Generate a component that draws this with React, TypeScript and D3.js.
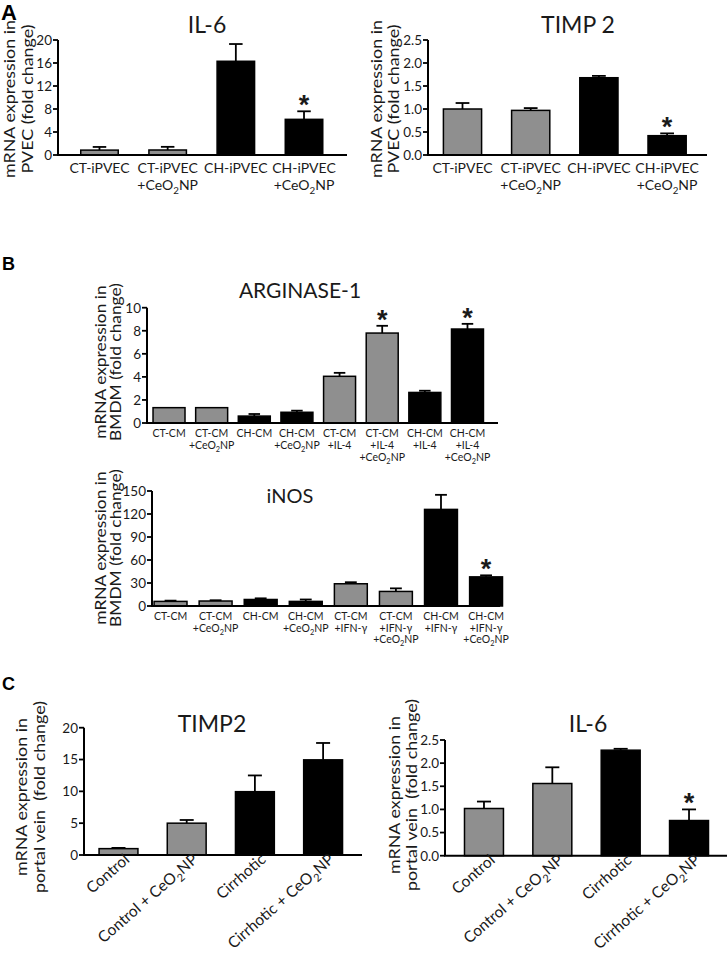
import React from "react";
import * as d3 from "d3";

// ---------- DATA ----------
const pvecCategories = ["CT-iPVEC", "CT-iPVEC\n+CeO2NP", "CH-iPVEC", "CH-iPVEC\n+CeO2NP"];
const pvecGroups = ["CT", "CT", "CH", "CH"];
const il6PvecMean = [0.85, 0.87, 16.3, 6.2];
const il6PvecSem = [0.55, 0.55, 3.0, 1.4];
const il6PvecSig = [false, false, false, true];
const il6PvecTicks = [0, 4, 8, 12, 16, 20];

const timp2PvecMean = [1.0, 0.97, 1.68, 0.42];
const timp2PvecSem = [0.13, 0.05, 0.04, 0.05];
const timp2PvecSig = [false, false, false, true];
const timp2PvecTicks = [0, 0.5, 1.0, 1.5, 2.0, 2.5];

const argCategories = [
  "CT-CM", "CT-CM\n+CeO2NP", "CH-CM", "CH-CM\n+CeO2NP",
  "CT-CM\n+IL-4", "CT-CM\n+IL-4\n+CeO2NP", "CH-CM\n+IL-4", "CH-CM\n+IL-4\n+CeO2NP",
];
const bmdmGroups = ["CT", "CT", "CH", "CH", "CT", "CT", "CH", "CH"];
const argMean = [1.33, 1.33, 0.6, 0.93, 4.05, 7.8, 2.65, 8.15];
const argSem = [0, 0, 0.18, 0.14, 0.3, 0.63, 0.15, 0.45];
const argSig = [false, false, false, false, false, true, false, true];
const argTicks = [0, 2, 4, 6, 8, 10];

const inosCategories = [
  "CT-CM", "CT-CM\n+CeO2NP", "CH-CM", "CH-CM\n+CeO2NP",
  "CT-CM\n+IFN-γ", "CT-CM\n+IFN-γ\n+CeO2NP", "CH-CM\n+IFN-γ", "CH-CM\n+IFN-γ\n+CeO2NP",
];
const inosMean = [6, 6.5, 8.5, 6, 29, 19, 126, 38];
const inosSem = [1, 1, 1.5, 2.5, 2, 4, 19, 2];
const inosSig = [false, false, false, false, false, false, false, true];
const inosTicks = [0, 30, 60, 90, 120, 150];

const pvCategories = ["Control", "Control + CeO2NP", "Cirrhotic", "Cirrhotic + CeO2NP"];
const pvGroups = ["CT", "CT", "CH", "CH"];
const timp2PvMean = [1.0, 5.0, 9.95, 14.95];
const timp2PvSem = [0.12, 0.5, 2.55, 2.65];
const timp2PvSig = [false, false, false, false];
const timp2PvTicks = [0, 5, 10, 15, 20];

const il6PvMean = [1.02, 1.56, 2.28, 0.76];
const il6PvSem = [0.15, 0.35, 0.03, 0.24];
const il6PvSig = [false, false, false, true];
const il6PvTicks = [0, 0.5, 1.0, 1.5, 2.0, 2.5];

// ---------- STYLE ----------
const FONT = "Lato, 'Open Sans', sans-serif";
const STAR_FONT = "'Liberation Sans', Arial, sans-serif";
const GRAY = "#8f8f8f";
const BLACK = "#000";
const TXT = "#1a1a1a";

type Layout = {
  axisX: number; axisEnd: number; yTop: number; yBottom: number;
  bandStart: number; bandEnd: number; padding: number;
  title: string; titleX: number; titleY: number; titleSize: number;
  ylabel: string[]; ylabelX: number; ylabelY: number; ylabelGap: number; ylabelSize: number; ylabelStretch: number;
  xMode: "stack" | "rot"; xFont: number; xFirst: number; xLine: number;
  tickFont: number; tickFmt: (v: number) => string;
};

function LabelText({ s, sub }: { s: string; sub: number }) {
  const idx = s.indexOf("CeO2");
  if (idx < 0) return <>{s}</>;
  const before = s.slice(0, idx + 3);
  const after = s.slice(idx + 4);
  return (
    <>
      {before}
      <tspan dy={sub * 0.3} fontSize={sub * 0.7}>2</tspan>
      <tspan dy={-sub * 0.3}>{after}</tspan>
    </>
  );
}

function Panel({
  categories, groups, means, sems, sig, ticks, L,
}: {
  categories: string[]; groups: string[]; means: number[]; sems: number[]; sig: boolean[]; ticks: number[]; L: Layout;
}) {
  const x = d3.scaleBand<number>().domain(d3.range(categories.length)).range([L.bandStart, L.bandEnd]).paddingInner(L.padding).paddingOuter(L.padding / 2);
  const y = d3.scaleLinear().domain([0, d3.max(ticks) as number]).range([L.yBottom, L.yTop]);
  const bw = x.bandwidth();
  return (
    <g>
      <text x={L.titleX} y={L.titleY} textAnchor="middle" fontSize={L.titleSize} fill={TXT} fontFamily={FONT}>{L.title}</text>
      <g transform={`translate(${L.ylabelX},${L.ylabelY}) rotate(-90) scale(${L.ylabelStretch},1)`}>
        {L.ylabel.map((t, i) => (
          <text key={i} x={0} y={i * L.ylabelGap} textAnchor="middle" fontSize={L.ylabelSize} fill={TXT} fontFamily={FONT} style={{ whiteSpace: "pre" }}>{t}</text>
        ))}
      </g>
      {means.map((m, i) => {
        const cx = (x(i) as number) + bw / 2;
        const top = y(m + sems[i]);
        return (
          <g key={i}>
            {sems[i] > 0 && (
              <g stroke={BLACK} strokeWidth={1.8}>
                <line x1={cx} x2={cx} y1={y(m)} y2={top} />
                <line x1={cx - bw * 0.18} x2={cx + bw * 0.18} y1={top} y2={top} />
              </g>
            )}
            <rect x={x(i)} y={y(m)} width={bw} height={y(0) - y(m)} fill={groups[i] === "CT" ? GRAY : BLACK} stroke={BLACK} strokeWidth={1.5} />
            {sig[i] && (
              <text x={cx} y={top + 3} textAnchor="middle" fontSize={27} fontWeight="bold" fill={TXT} fontFamily={STAR_FONT}>*</text>
            )}
          </g>
        );
      })}
      <line x1={L.axisX} x2={L.axisX} y1={L.yTop} y2={L.yBottom} stroke={BLACK} strokeWidth={2} />
      <line x1={L.axisX - 1} x2={L.axisEnd} y1={L.yBottom} y2={L.yBottom} stroke={BLACK} strokeWidth={2} />
      {ticks.map((t) => (
        <g key={t}>
          <line x1={L.axisX - 5} x2={L.axisX} y1={y(t)} y2={y(t)} stroke={BLACK} strokeWidth={1.8} />
          <text x={L.axisX - 6} y={y(t)} dy="0.36em" textAnchor="end" fontSize={L.tickFont} fill={TXT} fontFamily={FONT}>{L.tickFmt(t)}</text>
        </g>
      ))}
      {categories.map((c, i) => {
        const cx = (x(i) as number) + bw / 2;
        if (L.xMode === "stack") {
          return c.split("\n").map((line, j) => (
            <text key={`${i}-${j}`} x={cx} y={L.yBottom + L.xFirst + j * L.xLine} textAnchor="middle" fontSize={L.xFont} fill={TXT} fontFamily={FONT}>
              <LabelText s={line} sub={L.xFont} />
            </text>
          ));
        }
        return (
          <text key={i} transform={`translate(${cx + 12},${L.yBottom + 6}) rotate(-41)`} textAnchor="end" fontSize={L.xFont} fill={TXT} fontFamily={FONT}>
            <LabelText s={c} sub={L.xFont} />
          </text>
        );
      })}
    </g>
  );
}

const f0 = (v: number) => d3.format("d")(v);
const f1 = (v: number) => d3.format(".1f")(v);

export default function App() {
  const common = { ylabelSize: 16, ylabelStretch: 1.12, titleSize: 23, tickFont: 13.5 };
  const LETTER = "'Liberation Sans', Arial, sans-serif";
  return (
    <svg width={727} height={953} style={{ position: "absolute", left: 0, top: 0, background: "#fff" }} fontFamily={FONT}>
      <rect width={727} height={953} fill="#fff" />
      <text x={1} y={20} fontSize={22} fontWeight="bold" fontFamily={LETTER} fill="#000">A</text>
      <text x={2} y={270} fontSize={18} fontWeight="bold" fontFamily={LETTER} fill="#000">B</text>
      <text x={2} y={690} fontSize={18} fontWeight="bold" fontFamily={LETTER} fill="#000">C</text>

      <Panel categories={pvecCategories} groups={pvecGroups} means={il6PvecMean} sems={il6PvecSem} sig={il6PvecSig} ticks={il6PvecTicks}
        L={{ ...common, axisX: 58, axisEnd: 347, yTop: 40, yBottom: 155, bandStart: 65.4, bandEnd: 338.1, padding: 0.45,
          title: "IL-6", titleX: 207, titleY: 33, ylabel: ["mRNA expression in", "PVEC (fold change)"], ylabelX: 15, ylabelY: 99, ylabelGap: 18,
          xMode: "stack", xFont: 14, xFirst: 18, xLine: 17, tickFmt: f0 }} />
      <Panel categories={pvecCategories} groups={pvecGroups} means={timp2PvecMean} sems={timp2PvecSem} sig={timp2PvecSig} ticks={timp2PvecTicks}
        L={{ ...common, axisX: 428, axisEnd: 707, yTop: 40, yBottom: 155, bandStart: 428.4, bandEnd: 701.2, padding: 0.44,
          title: "TIMP 2", titleX: 578, titleY: 33, ylabel: ["mRNA expression in", "PVEC (fold change)"], ylabelX: 382, ylabelY: 99, ylabelGap: 17,
          xMode: "stack", xFont: 14, xFirst: 18, xLine: 17, tickFmt: f1 }} />

      <Panel categories={argCategories} groups={bmdmGroups} means={argMean} sems={argSem} sig={argSig} ticks={argTicks}
        L={{ ...common, axisX: 147, axisEnd: 498, yTop: 307.7, yBottom: 423, bandStart: 147.7, bandEnd: 488.8, padding: 0.25,
          title: "ARGINASE-1", titleX: 300, titleY: 298, titleSize: 21, ylabel: ["mRNA expression in", "BMDM (fold change)"], ylabelX: 106, ylabelY: 362, ylabelGap: 15,
          ylabelSize: 15.5, xMode: "stack", xFont: 10.5, xFirst: 14, xLine: 12, tickFmt: f0 }} />
      <Panel categories={inosCategories} groups={bmdmGroups} means={inosMean} sems={inosSem} sig={inosSig} ticks={inosTicks}
        L={{ ...common, axisX: 152, axisEnd: 500, yTop: 491, yBottom: 606, bandStart: 148, bandEnd: 508.6, padding: 0.27,
          title: "iNOS", titleX: 290, titleY: 503, titleSize: 20, ylabel: ["mRNA expression in", "BMDM (fold change)"], ylabelX: 106, ylabelY: 548, ylabelGap: 15,
          ylabelSize: 15.5, xMode: "stack", xFont: 10.5, xFirst: 14, xLine: 11.5, tickFmt: f0 }} />

      <Panel categories={pvCategories} groups={pvGroups} means={timp2PvMean} sems={timp2PvSem} sig={timp2PvSig} ticks={timp2PvTicks}
        L={{ ...common, axisX: 84, axisEnd: 362, yTop: 727.7, yBottom: 855, bandStart: 84.4, bandEnd: 357.2, padding: 0.43,
          title: "TIMP2", titleX: 212, titleY: 732, ylabel: ["mRNA expression in", "portal vein\u00A0 (fold change)"], ylabelX: 27, ylabelY: 797, ylabelGap: 18,
          xMode: "rot", xFont: 15.5, xFirst: 0, xLine: 0, tickFmt: f0 }} />
      <Panel categories={pvCategories} groups={pvGroups} means={il6PvMean} sems={il6PvSem} sig={il6PvSig} ticks={il6PvTicks}
        L={{ ...common, axisX: 445, axisEnd: 727, yTop: 740, yBottom: 855.7, bandStart: 449.8, bandEnd: 723.2, padding: 0.43,
          title: "IL-6", titleX: 588, titleY: 732, ylabel: ["mRNA expression in", "portal vein\u00A0 (fold change)"], ylabelX: 400, ylabelY: 795, ylabelGap: 17,
          xMode: "rot", xFont: 15.5, xFirst: 0, xLine: 0, tickFmt: f1 }} />
    </svg>
  );
}
